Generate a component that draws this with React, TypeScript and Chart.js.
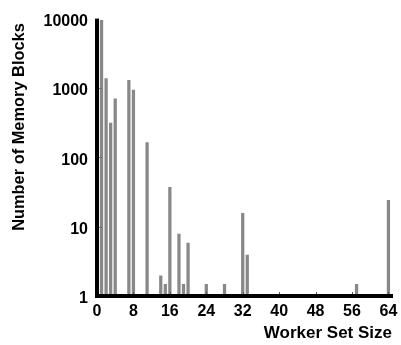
import React, { useEffect, useRef } from "react";
import { Chart, registerables } from "chart.js";

Chart.register(...registerables);

const workerSetSizes = [1, 2, 3, 4, 7, 8, 11, 14, 15, 16, 18, 19, 20, 24, 28, 32, 33, 57, 64];
const memoryBlocks = [9460, 1370, 312, 695, 1290, 930, 163, 1.95, 1.47, 37, 7.8, 1.47, 5.8, 1.47, 1.47, 15.5, 3.9, 1.47, 24];
const xTickValues = [0, 8, 16, 24, 32, 40, 48, 56, 64];
const yTickValues = [1, 10, 100, 1000, 10000];
const xTitle = "Worker Set Size";
const yTitle = "Number of Memory Blocks";

const FONT = "'Liberation Sans', Arial, sans-serif";

const extrasPlugin = {
  id: "extras",
  afterDraw(chart: any) {
    const ctx = chart.ctx;
    const xs = chart.scales.x;
    const ys = chart.scales.y;
    const area = chart.chartArea;
    ctx.save();
    // solid axis lines on top of bars
    ctx.fillStyle = "#000";
    ctx.fillRect(area.left - 2, area.top, 4, area.bottom - area.top + 2);
    ctx.fillRect(area.left - 2, area.bottom - 2, area.right - area.left + 2, 4);
    // inner y ticks
    ctx.strokeStyle = "#777";
    ctx.lineWidth = 1;
    yTickValues.slice(1, -1).forEach((v) => {
      const py = Math.round(ys.getPixelForValue(v)) + 0.5;
      ctx.beginPath();
      ctx.moveTo(area.left + 2, py);
      ctx.lineTo(area.left + 5, py);
      ctx.stroke();
    });
    // inner x ticks
    ctx.strokeStyle = "#555";
    xTickValues.slice(1).forEach((v) => {
      const px = Math.round(xs.getPixelForValue(v)) + 0.5;
      ctx.beginPath();
      ctx.moveTo(px, area.bottom - 2);
      ctx.lineTo(px, area.bottom - 4);
      ctx.stroke();
    });
    // titles
    ctx.fillStyle = "#000";
    ctx.font = `bold 17px ${FONT}`;
    ctx.textAlign = "right";
    ctx.textBaseline = "middle";
    ctx.fillText(xTitle, 392, 333);
    ctx.font = `bold 16.4px ${FONT}`;
    ctx.translate(19, 127);
    ctx.rotate(-Math.PI / 2);
    ctx.textAlign = "center";
    ctx.fillText(yTitle, 0, 0);
    ctx.restore();
  },
};

export default function App() {
  const ref = useRef<HTMLCanvasElement | null>(null);
  useEffect(() => {
    if (!ref.current) return;
    const chart = new Chart(ref.current, {
      type: "bar",
      data: {
        datasets: [
          {
            data: workerSetSizes.map((x, i) => ({ x, y: memoryBlocks[i] })),
            backgroundColor: "#888888",
            borderWidth: 0,
            barThickness: 2.6,
          },
        ],
      },
      options: {
        responsive: false,
        animation: false,
        events: [],
        layout: { padding: { top: 14, right: 8, left: 0, bottom: 0 } },
        plugins: { legend: { display: false }, tooltip: { enabled: false } },
        scales: {
          x: {
            type: "linear",
            min: 0,
            max: 65,
            offset: false,
            afterBuildTicks: (s: any) => {
              s.ticks = xTickValues.map((v) => ({ value: v }));
            },
            afterFit: (s: any) => {
              s.height = 49;
              s.paddingRight = 0;
            },
            grid: { display: false, drawTicks: false, offset: false },
            border: { display: false },
            ticks: {
              padding: 6,
              color: "#000",
              font: { family: FONT, size: 16, weight: "bold" },
              maxRotation: 0,
              autoSkip: false,
            },
          },
          y: {
            type: "logarithmic",
            min: 1,
            max: 10000,
            afterBuildTicks: (s: any) => {
              s.ticks = yTickValues.map((v) => ({ value: v }));
            },
            afterFit: (s: any) => {
              s.width = 97;
            },
            grid: { display: false, drawTicks: false },
            border: { display: false },
            ticks: {
              padding: 9,
              labelOffset: 3,
              color: "#000",
              font: { family: FONT, size: 16, weight: "bold" },
              callback: (v: any) => String(v),
              autoSkip: false,
            },
          },
        },
      },
      plugins: [extrasPlugin],
    } as any);
    return () => chart.destroy();
  }, []);
  return (
    <div style={{ position: "absolute", left: 0, top: 0, width: 401, height: 345, background: "#fff" }}>
      <canvas ref={ref} width={401} height={345} />
    </div>
  );
}
